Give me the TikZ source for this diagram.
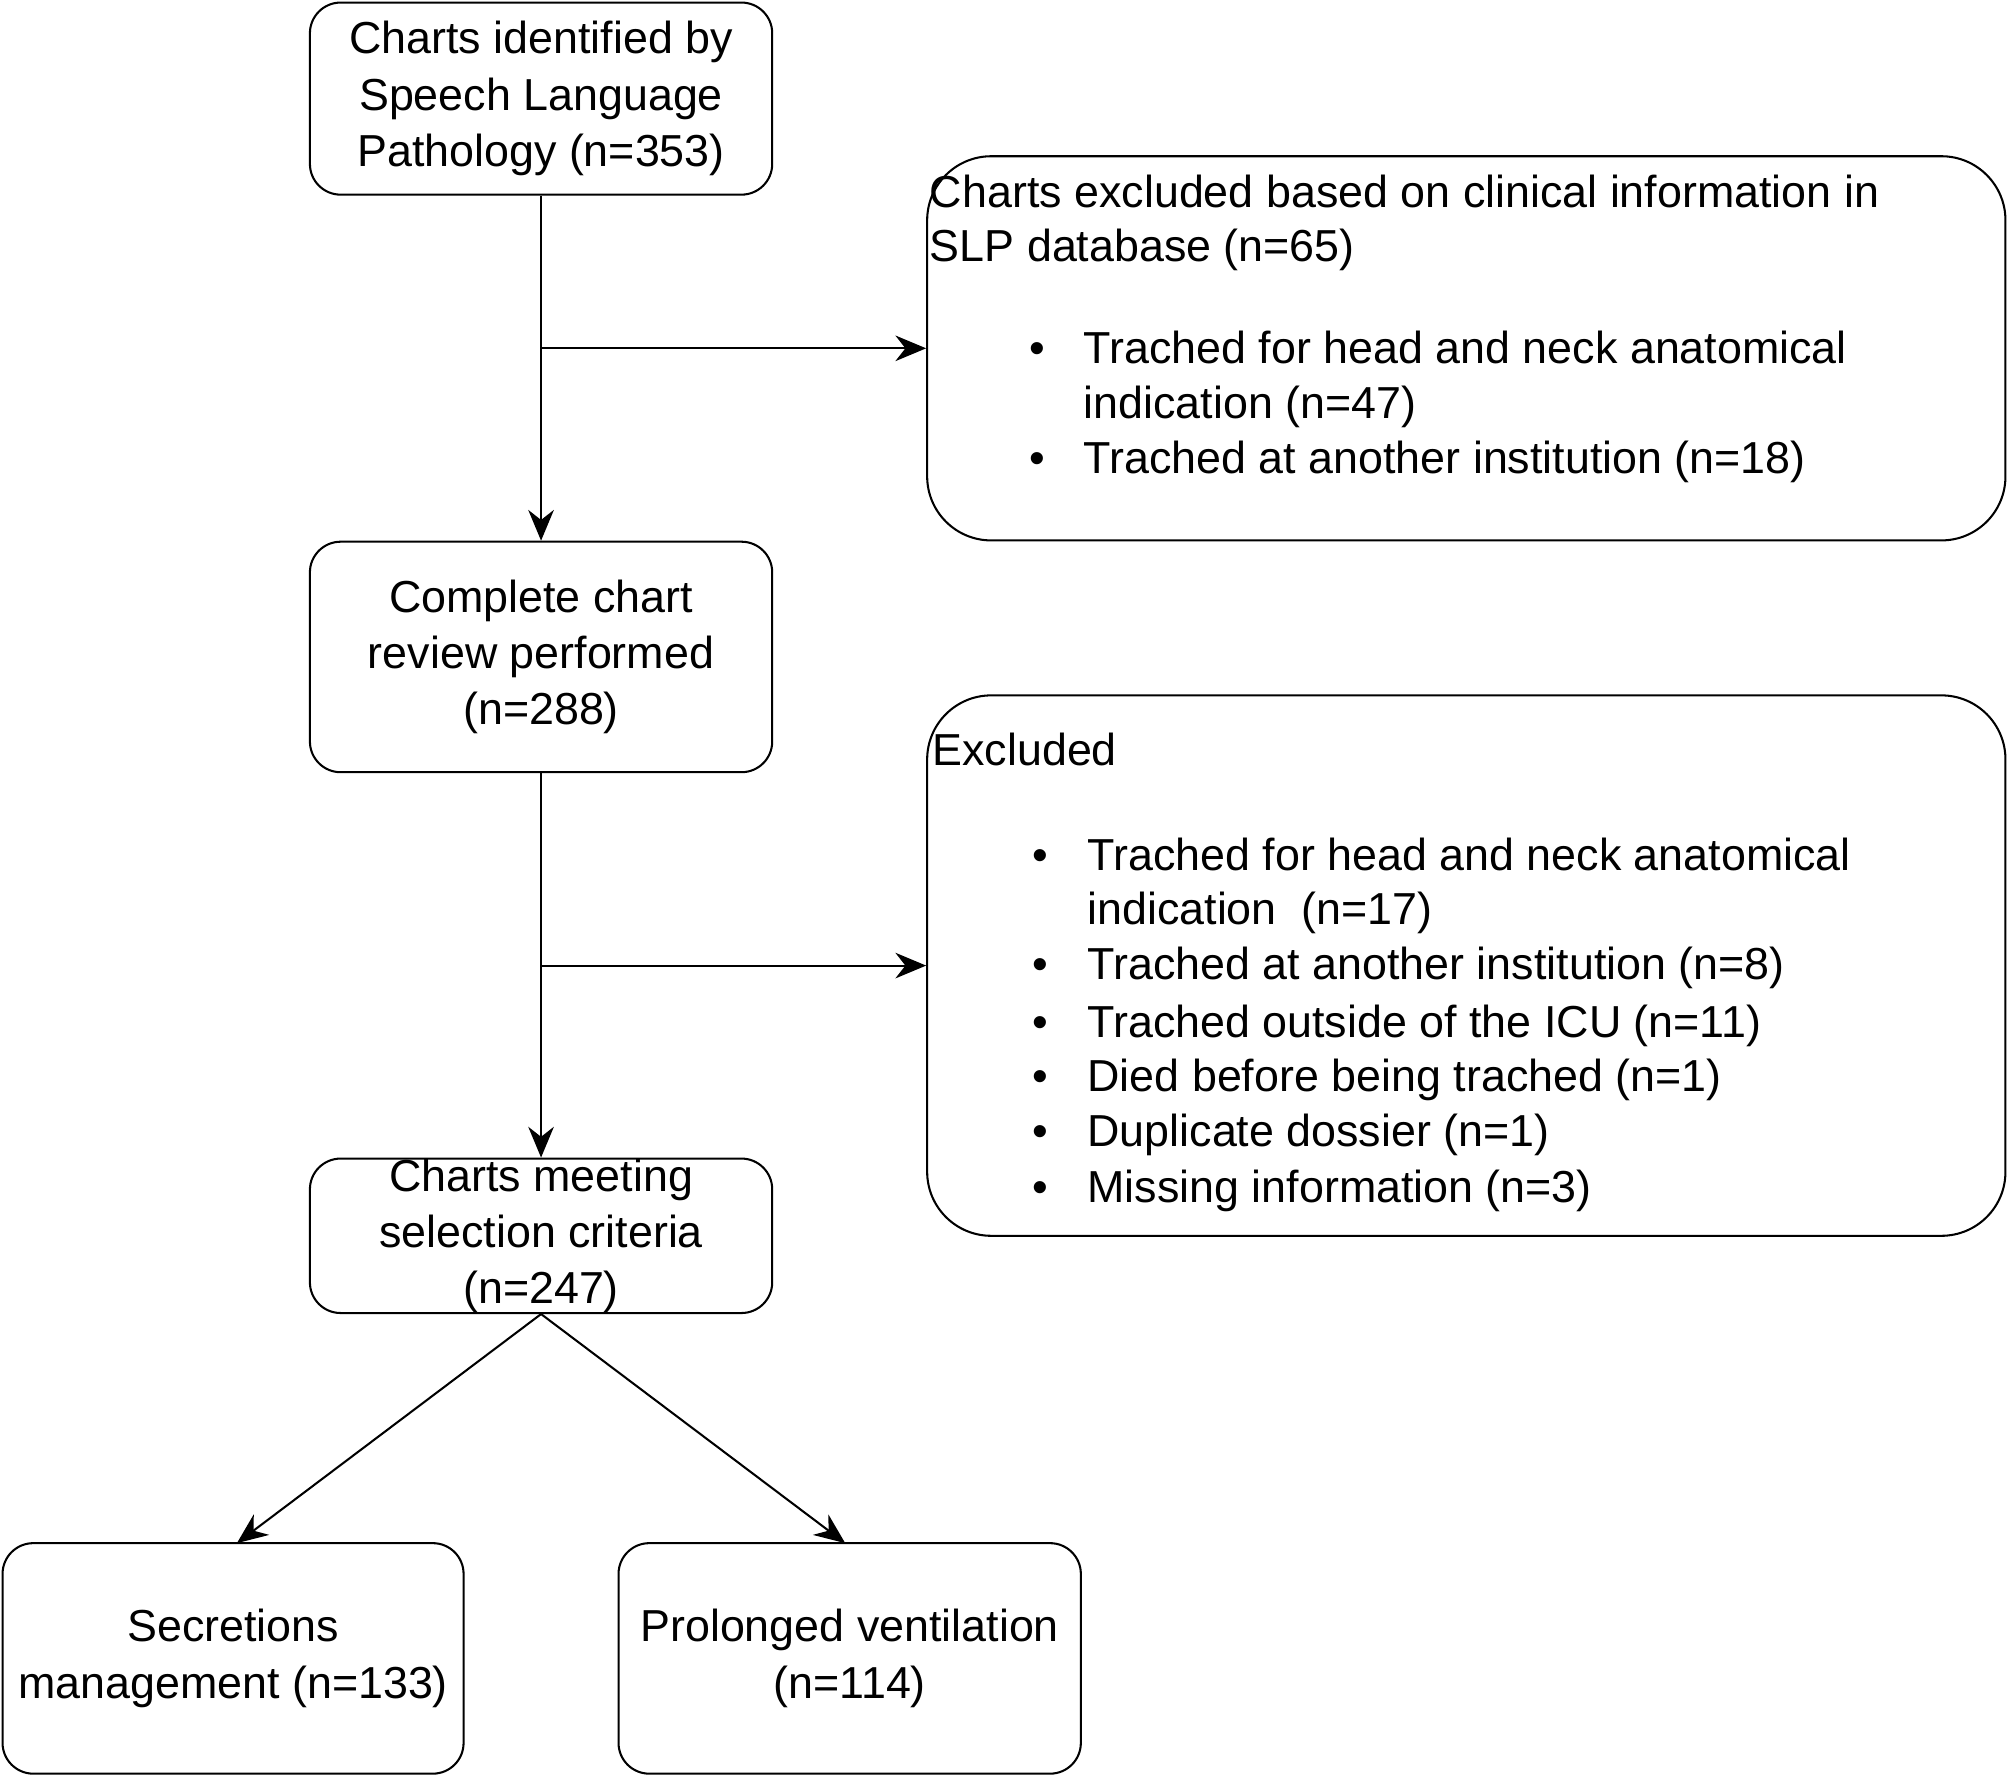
\documentclass[tikz,border=0pt]{standalone}
\usepackage{fontspec}
\usetikzlibrary{arrows.meta}
\setmainfont{Liberation Sans}
\begin{document}
\begin{tikzpicture}[x=1pt,y=-1pt,
  box/.style={draw,line width=1.6pt,rounded corners=24pt,inner sep=0pt,align=center,font=\fontsize{35}{44}\selectfont},
  big/.style={draw,line width=1.6pt,rounded corners=50pt},
  txt/.style={anchor=base west,inner sep=0pt,font=\fontsize{35}{44}\selectfont},
  bul/.style={anchor=base,inner sep=0pt,font=\fontsize{35}{44}\selectfont},
  arr/.style={draw,line width=1.6pt,-{Stealth[length=24pt,width=20pt]}},
  ln/.style={draw,line width=1.6pt}]
\useasboundingbox (0,0) rectangle (1568,1388);
\node[box,minimum width=361pt,minimum height=150pt] (A) at (422.5,77) {Charts identified by\\Speech Language\\Pathology (n=353)};
\node[box,minimum width=361pt,minimum height=180pt] (C) at (422.5,513) {Complete chart\\review performed\\(n=288)};
\node[box,minimum width=361pt,minimum height=120pt] (E) at (422.5,965) {Charts meeting\\selection criteria\\(n=247)};
\node[box,minimum width=360pt,minimum height=180pt] (F) at (182,1295) {Secretions\\management (n=133)};
\node[box,minimum width=361pt,minimum height=180pt] (G) at (663.5,1295) {Prolonged ventilation\\(n=114)};
\node[big,minimum width=842pt,minimum height=300pt] (B) at (1145,272) {};
\node[big,minimum width=842pt,minimum height=422pt] (D) at (1145,754) {};
% B texts
\node[txt] (b1) at (726,162) {Charts excluded based on clinical information in};
\node[txt] (b2) at (726,204) {SLP database (n=65)};
\node[bul] (bb1) at (810,284) {•};
\node[txt] (b3) at (846,284) {Trached for head and neck anatomical};
\node[txt] (b4) at (846,327) {indication (n=47)};
\node[bul] (bb2) at (810,370) {•};
\node[txt] (b5) at (846,370) {Trached at another institution (n=18)};
% D texts
\node[txt] (d0) at (728,598) {Excluded};
\node[bul] (db1) at (812,680) {•};
\node[txt] (d1) at (849,680) {Trached for head and neck anatomical};
\node[txt] (d2) at (849,722) {indication~~(n=17)};
\node[bul] (db2) at (812,765) {•};
\node[txt] (d3) at (849,765) {Trached at another institution (n=8)};
\node[bul] (db3) at (812,810) {•};
\node[txt] (d4) at (849,810) {Trached outside of the ICU (n=11)};
\node[bul] (db4) at (812,852) {•};
\node[txt] (d5) at (849,852) {Died before being trached (n=1)};
\node[bul] (db5) at (812,895) {•};
\node[txt] (d6) at (849,895) {Duplicate dossier (n=1)};
\node[bul] (db6) at (812,939) {•};
\node[txt] (d7) at (849,939) {Missing information (n=3)};
% connectors
\coordinate (j1) at (A.south |- B.west);
\coordinate (j2) at (C.south |- D.west);
\draw[arr] (A.south) -- (C.north);
\draw[arr] (j1) -- (B.west);
\draw[arr] (C.south) -- (E.north);
\draw[arr] (j2) -- (D.west);
\coordinate (f1) at (185,1205);
\coordinate (g1) at (660,1205);
\draw[arr] (E.south) -- (f1);
\draw[arr] (E.south) -- (g1);
\end{tikzpicture}
\end{document}
